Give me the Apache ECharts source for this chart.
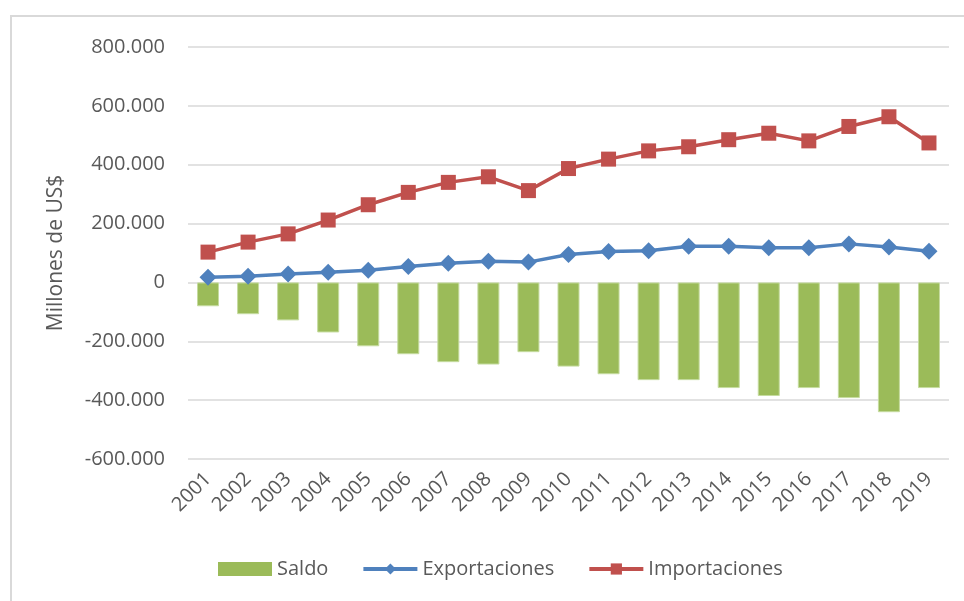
<!DOCTYPE html>
<html>
<head>
<meta charset="utf-8">
<script src="https://cdn.jsdelivr.net/npm/echarts@6/dist/echarts.min.js"></script>
<style>
    html, body { margin: 0; padding: 0; background: #fff; }
    #frame { position: absolute; left: 10px; top: 15px; width: 1000px; height: 700px; border: 2px solid #d9d9d9; box-sizing: border-box; }
    #chart { position: absolute; left: 0; top: 0; width: 964px; height: 601px; }
</style>
</head>
<body>
<div id="frame"></div>
<div id="chart"></div>
<script>
// data (millones de US$)
const years = ['2001', '2002', '2003', '2004', '2005', '2006', '2007', '2008', '2009', '2010',
    '2011', '2012', '2013', '2014', '2015', '2016', '2017', '2018', '2019']
const saldo = [-81000, -108000, -129000, -170000, -217000, -244000, -271000, -279000, -237000, -286000,
    -312000, -332000, -332000, -359000, -386000, -359000, -393000, -441000, -359000]
const exportaciones = [18000, 21000, 29000, 35000, 41000, 54000, 65000, 72000, 69000, 95000,
    105000, 108000, 123000, 123000, 118000, 118000, 131000, 120000, 106000]
const importaciones = [103000, 137000, 165000, 212000, 264000, 306000, 340000, 359000, 312000, 387000,
    419000, 447000, 461000, 485000, 507000, 481000, 530000, 563000, 474000]

const fontFamily = '"Open Sans", sans-serif'
const textColor = '#595959'

// 800000 -> "800.000"
function fmt(v) {
    let s = Math.abs(v).toString().replace(/\B(?=(\d{3})+(?!\d))/g, '.')
    return (v < 0 ? '-' : '') + s
}

let chart = echarts.init(document.querySelector('#chart'))

let option = {
    animation: false,
    textStyle: { fontFamily: fontFamily },
    grid: {
        left: 188,
        right: 15,
        top: 47,
        bottom: 142
    },
    legend: {
        bottom: 17,
        left: 213,
        itemWidth: 54,
        itemHeight: 14,
        itemGap: 33,
        lineStyle: { width: 4 },
        textStyle: { color: textColor, fontSize: 20, fontFamily: fontFamily },
        data: [
            { name: 'Saldo', icon: 'rect', itemStyle: { borderWidth: 0 } },
            { name: 'Exportaciones' },
            { name: 'Importaciones' }
        ]
    },
    xAxis: {
        type: 'category',
        data: years,
        axisLine: { show: false, onZero: false },
        axisTick: { show: false },
        axisLabel: {
            rotate: 45,
            margin: 17,
            color: textColor,
            fontSize: 20,
            fontFamily: fontFamily
        }
    },
    yAxis: {
        type: 'value',
        min: -600000,
        max: 800000,
        interval: 200000,
        name: 'Millones de US$',
        nameLocation: 'middle',
        nameGap: 121,
        nameTextStyle: { color: textColor, fontSize: 21, fontFamily: fontFamily },
        axisLine: { show: false },
        axisTick: { show: false },
        axisLabel: {
            margin: 23,
            color: textColor,
            fontSize: 20,
            fontFamily: fontFamily,
            formatter: fmt
        },
        splitLine: { lineStyle: { color: '#d9d9d9', width: 1.5 } }
    },
    series: [
        {
            name: 'Saldo',
            type: 'bar',
            data: saldo,
            barWidth: 22,
            itemStyle: { color: '#9bbb59', borderColor: '#c6dca0', borderWidth: 1 }
        },
        {
            name: 'Exportaciones',
            type: 'line',
            data: exportaciones,
            symbol: 'diamond',
            symbolSize: 17,
            lineStyle: { color: '#4f81bd', width: 3.5 },
            itemStyle: { color: '#4f81bd' }
        },
        {
            name: 'Importaciones',
            type: 'line',
            data: importaciones,
            symbol: 'rect',
            symbolSize: 15,
            lineStyle: { color: '#c0504d', width: 3.5 },
            itemStyle: { color: '#c0504d' }
        }
    ]
}

chart.setOption(option)
</script>
</body>
</html>
